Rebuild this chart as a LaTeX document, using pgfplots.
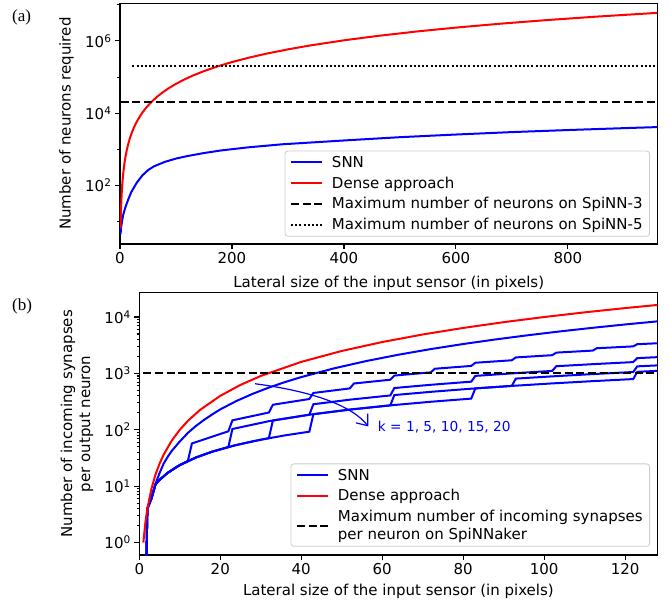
\documentclass[border=0pt]{standalone}
\usepackage{fontspec}
\setmainfont{DejaVu Sans}
\newfontfamily\timesfont{Liberation Serif}
\usepackage{pgfplots}
\pgfplotsset{compat=1.18}
\usetikzlibrary{arrows.meta}
\newcommand\fs{\fontsize{15}{18}\selectfont}
\definecolor{mblue}{RGB}{0,0,255}
\definecolor{mred}{RGB}{255,0,0}

\pgfplotsset{
  mpl/.style={
    scale only axis,
    axis line style={line width=1.1pt},
    tick align=outside, tick pos=left,
    tick style={black, line width=1.1pt},
    major tick length=5pt, minor tick length=2.8pt,
    tick label style={font=\fs},
    label style={font=\fs},
    /pgf/number format/assume math mode=true,
    legend cell align=left,
    legend image code/.code={\draw[##1] (0pt,0pt) -- (31pt,0pt); \path (38pt,0pt);},
    legend style={font=\fs, draw=black!20, line width=0.8pt, rounded corners=3pt,
      fill=white, fill opacity=0.8, text opacity=1, draw opacity=1,
      anchor=south east, inner xsep=5pt, inner ysep=3pt, row sep=4pt,
      nodes={inner ysep=2pt}, cells={align=left}},
  },
  snn/.style={mblue, line width=2pt},
  dense/.style={mred, line width=2pt},
  maxdash/.style={black, line width=2pt, dash pattern=on 8pt off 3.7pt},
  maxdot/.style={black, line width=2pt, dash pattern=on 2pt off 2.2pt},
}

\begin{document}
\begin{tikzpicture}
\path[use as bounding box] (0pt,0pt) rectangle (670pt,-603pt);

% (a) neurons
\begin{axis}[mpl, ymode=log,
  at={(120pt,-244pt)}, anchor=south west,
  width=537.5pt, height=240.7pt,
  xmin=0, xmax=960, ymin=2.4, ymax=1.1e7,
  xtick={0,200,400,600,800},
  ytick={1e2,1e4,1e6},
  yticklabels={10\textsuperscript{2},10\textsuperscript{4},10\textsuperscript{6}},
  minor ytick={1e1,1e3,1e5,1e7},
  xlabel={Lateral size of the input sensor (in pixels)},
  ylabel={Number of neurons required},
  xlabel style={at={(axis description cs:0.5,-0.162)}, anchor=center},
  ylabel style={at={(axis description cs:-0.0995,0.5)}, anchor=center},
  legend style={at={(axis description cs:1,0)}, xshift=-7.5pt, yshift=7.3pt},
]
\addplot[snn] coordinates {
  (1,4.5) (2,7) (4,11) (6,16) (10,26) (15,42) (20,65) (30,120) (40,190)
  (50,265) (60,335) (80,450) (100,555) (120,650) (150,790) (180,930)
  (230,1140) (290,1380) (400,1760) (500,2170) (600,2570) (700,3000)
  (800,3420) (900,3860) (960,4130)};
\addlegendentry{SNN}
\addplot[dense] coordinates {
  (1,6.5) (1.5,14.6) (2,26) (3,58.5) (4,104) (5,162.5) (6,234) (8,416)
  (10,650) (12,936) (14,1274) (17,1878.5) (20,2600) (24,3744) (28,5096)
  (33,7078.5) (40,10400) (47,14358.5) (55,19662.5) (65,27462.5)
  (75,36562.5) (87,49198.5) (100,65000) (115,85962.5) (130,109850)
  (150,146250) (175,199062.5) (200,260000) (230,343850) (260,439400)
  (300,585000) (340,751400) (400,1040000) (460,1375400) (530,1825850)
  (600,2340000) (680,3005600) (760,3754400) (850,4696250) (960,5990400)};
\addlegendentry{Dense approach}
\addplot[maxdash] coordinates {(1,20000) (960,20000)};
\addlegendentry{Maximum number of neurons on SpiNN-3}
\addplot[maxdot] coordinates {(22,200000) (960,200000)};
\addlegendentry{Maximum number of neurons on SpiNN-5}
\end{axis}

% (b) synapses
\begin{axis}[mpl, ymode=log,
  at={(139.3pt,-555pt)}, anchor=south west,
  width=518.2pt, height=262.3pt,
  xmin=0, xmax=128, ymin=0.6, ymax=2.7e4,
  xtick={0,20,40,60,80,100,120},
  ytick={1,10,100,1000,10000},
  yticklabels={10\textsuperscript{0},10\textsuperscript{1},10\textsuperscript{2},10\textsuperscript{3},10\textsuperscript{4}},
  xlabel={Lateral size of the input sensor (in pixels)},
  ylabel={Number of incoming synapses\\per output neuron},
  xlabel style={at={(axis description cs:0.5,-0.137)}, anchor=center},
  ylabel style={at={(axis description cs:-0.1202,0.5)}, anchor=center, align=center},
  legend style={at={(axis description cs:1,0)}, xshift=-7.5pt, yshift=8.3pt},
]
% k = 1
\addplot[snn] coordinates {
  (1,0.001) (2,4) (3,6.5) (4,11) (5,17) (6,25) (7,33) (8,42) (10,62) (12,88)
  (14,117) (16,150) (18,187) (20,230) (24,324) (28,434) (32,560) (36,702)
  (40,860) (48,1224) (56,1652) (64,2144) (72,2700) (80,3320) (88,4004)
  (96,4752) (104,5564) (112,6440) (120,7380) (128,8384)};
\addlegendentry{SNN}
% k = 5
\addplot[snn, forget plot] coordinates {
  (1,0.001) (2,4) (3,6) (4,10.75) (5,12.9) (7,17.2) (9,21.5) (12,27.95)
  (13,57.2) (22,94.0) (23,147.1) (32,202.2) (33,277.8) (42,351.3)
  (43,449.4) (52,541.3) (53,661.8) (62,772.1) (63,915.0) (72,1043.7)
  (73,1209.2) (82,1356.2) (83,1544.1) (92,1709.6) (93,1920.0) (102,2103.8)
  (103,2336.6) (112,2538.8) (113,2794.1) (122,3014.7) (123,3292.5) (128,3425.3)};
% k = 10
\addplot[snn, forget plot] coordinates {
  (1,0.001) (2,4) (3,6) (4,10.75) (5,12.9) (7,17.2) (10,23.65) (14,32.25)
  (18,40.85) (22,49.45) (23,103.2) (32,141.9) (42,184.9) (43,283.8)
  (52,341.85) (62,406.35) (63,550.4) (72,627.8) (82,713.8) (83,903)
  (92,999.75) (102,1107.25) (103,1341.6) (112,1457.7) (122,1586.7)
  (123,1866.2) (128,1941.45)};
% k = 15
\addplot[snn, forget plot] coordinates {
  (1,0.001) (2,4) (3,6) (4,10.75) (5,12.9) (7,17.2) (10,23.65) (14,32.25)
  (18,40.85) (23,51.6) (28,62.35) (32,70.95) (33,146.2) (42,184.9)
  (52,227.9) (62,270.9) (63,412.8) (72,470.85) (82,535.35) (92,599.85)
  (93,808.4) (102,885.8) (112,971.8) (122,1057.8) (123,1333) (128,1386.75)};
% k = 20
\addplot[snn, forget plot] coordinates {
  (1,0.001) (2,4) (3,6) (4,10.75) (5,12.9) (7,17.2) (10,23.65) (14,32.25)
  (18,40.85) (24,53.75) (30,66.65) (36,79.55) (42,92.45) (43,189.2)
  (52,227.9) (62,270.9) (72,313.9) (82,356.9) (83,541.8) (92,599.85)
  (102,664.35) (112,728.85) (122,793.35) (123,1066.4) (128,1109.4)};
\addplot[dense] coordinates {
  (1,1) (1.5,2.25) (2,4) (3,9) (4,16) (5,25) (6,36) (8,64) (10,100)
  (12,144) (15,225) (20,400) (25,625) (30,900) (40,1600) (50,2500)
  (60,3600) (70,4900) (80,6400) (90,8100) (100,10000) (110,12100)
  (120,14400) (128,16384)};
\addlegendentry{Dense approach}
\addplot[maxdash] coordinates {(1,1024) (128,1024)};
\addlegendentry{Maximum number of incoming synapses\\per neuron on SpiNNaker}
\draw[mblue, line width=1.2pt, -{Straight Barb[length=9.5pt,width=15pt]}]
  (axis cs:28.58,655) .. controls (axis cs:43.28,474) and (axis cs:52.59,264)
  .. (axis cs:56.57,114.6);
\node[anchor=base west, inner sep=0pt, text=mblue, font=\fontsize{13.7}{16}\selectfont]
  at (axis cs:58.9,92) {k = 1, 5, 10, 15, 20};
\end{axis}

\node[anchor=base west, inner sep=0pt, font=\timesfont\fontsize{17}{20}\selectfont]
  at (12pt,-21pt) {(a)};
\node[anchor=base west, inner sep=0pt, font=\timesfont\fontsize{17}{20}\selectfont]
  at (12pt,-310pt) {(b)};
\end{tikzpicture}
\end{document}
